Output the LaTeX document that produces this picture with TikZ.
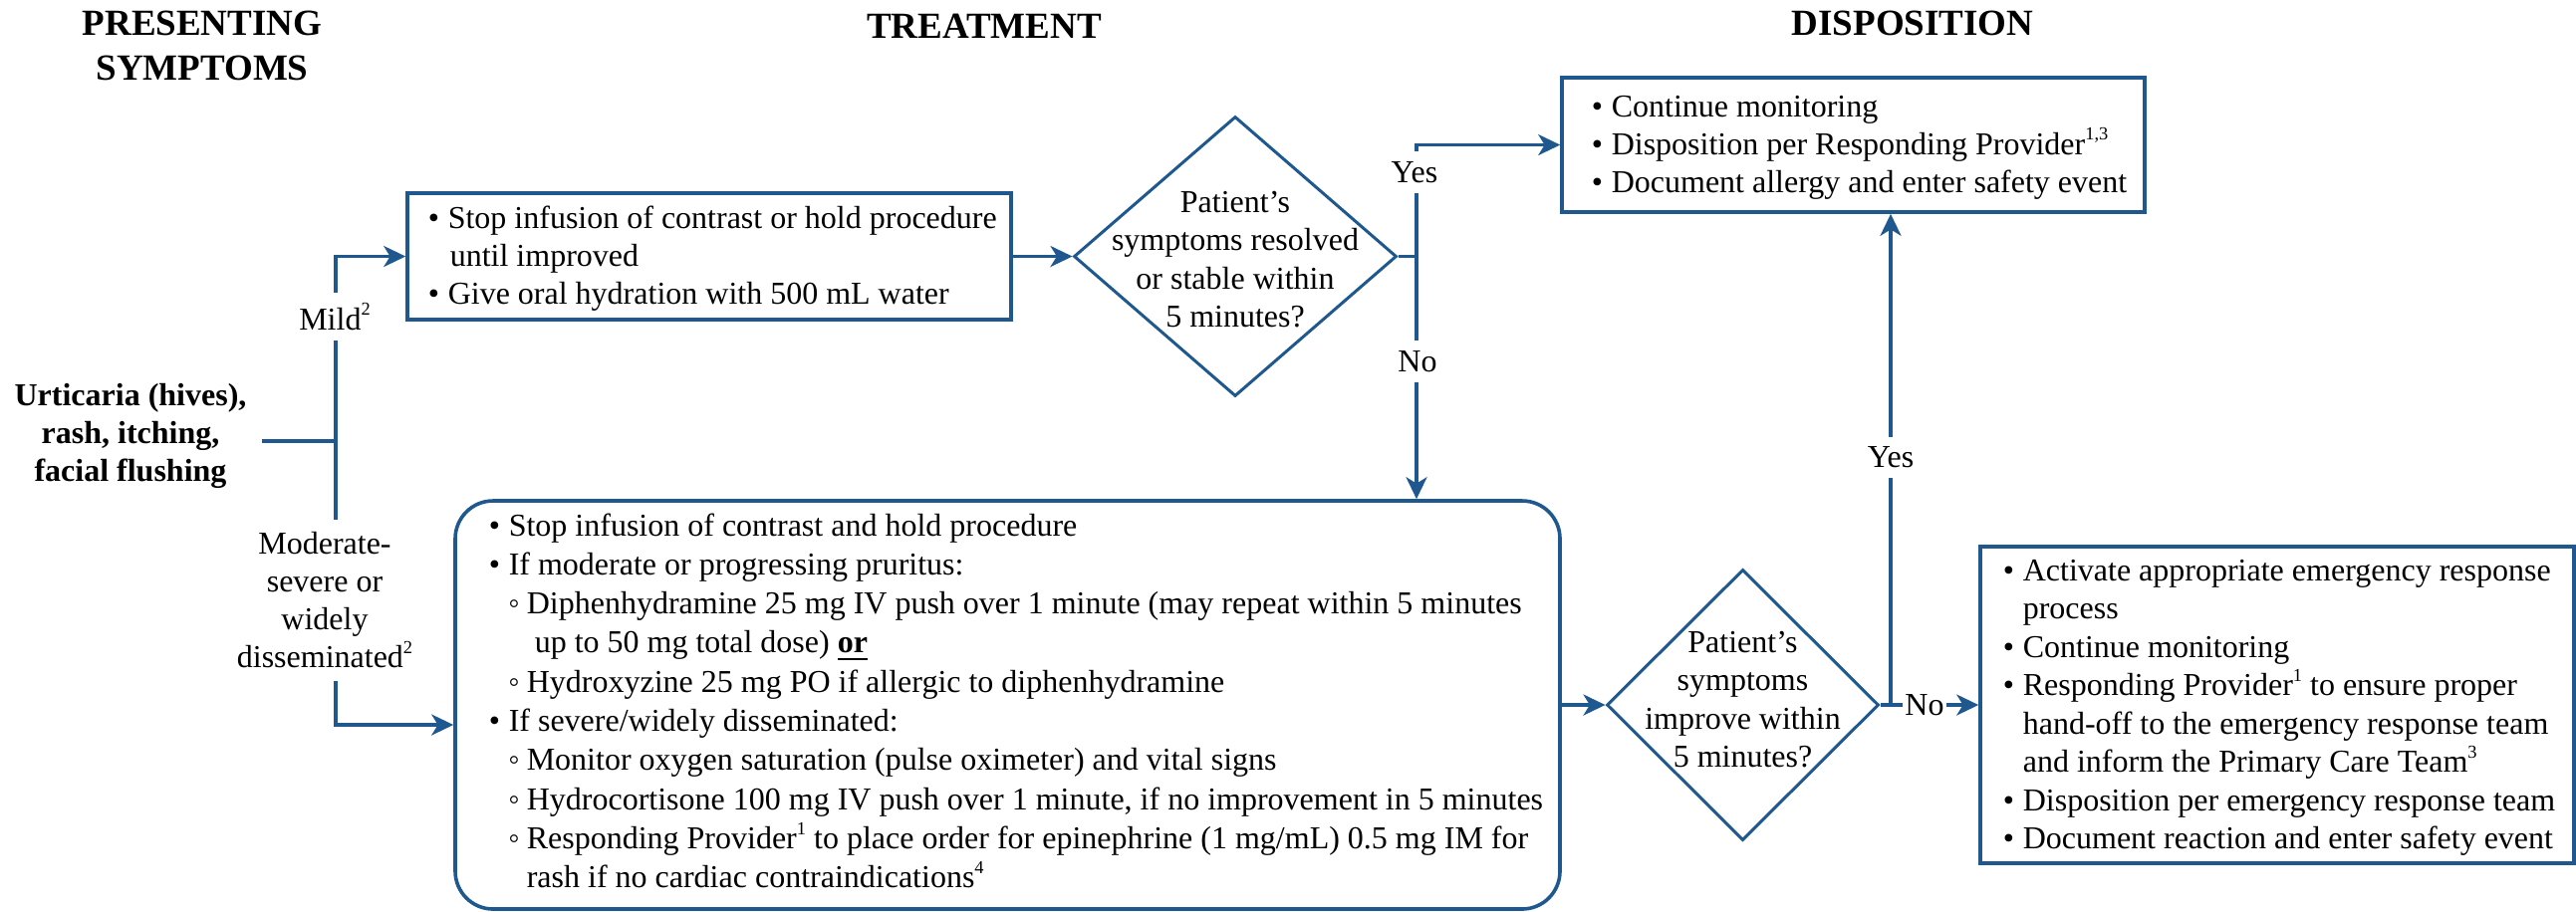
\documentclass[tikz,border=0pt]{standalone}
\usepackage{fontspec}
\setmainfont{Liberation Serif}
\usetikzlibrary{shapes.geometric,arrows.meta}
\definecolor{fblue}{RGB}{31,88,143}
\newcommand\bul{\llap{•\hspace{2.2pt}}}
\newcommand\sbul{\llap{◦\hspace{1.8pt}}}
\newcommand\sps[1]{\raisebox{3.6pt}{\fontsize{4.6}{5}\selectfont #1}}
\tikzset{
  x=0.25pt, y=-0.25pt,
  txt/.style={font=\fontsize{8}{9.5}\selectfont, inner sep=0pt, anchor=base west},
  ctxt/.style={font=\fontsize{8}{9.5}\selectfont, inner sep=0pt, anchor=base},
  head/.style={font=\fontsize{9.25}{11.25}\selectfont\bfseries, inner sep=0pt, anchor=base},
  box/.style={draw=fblue, line width=0.9pt, rectangle, inner sep=0pt},
  dia/.style={draw=fblue, line width=0.75pt, diamond, inner sep=0pt},
  conn/.style={draw=fblue, line width=0.85pt},
  arr/.style={conn, -{Stealth[length=5.5pt,width=5.25pt,inset=1.6pt]}},
  lbl/.style={font=\fontsize{8}{9.5}\selectfont, inner sep=0pt, align=center},
}
\begin{document}
\begin{tikzpicture}
\useasboundingbox (0,0) rectangle (2586,915);
% headings
\node[head] (h1a) at (203,35) {PRESENTING};
\node[head] (h1b) at (203,80) {SYMPTOMS};
\node[head] (h2) at (988,38) {TREATMENT};
\node[head] (h3) at (1920,35) {DISPOSITION};

% presenting symptoms
\node[lbl, font=\fontsize{8}{9.5}\selectfont\bfseries, inner xsep=3.75pt] (urt) at (131,437.5) {Urticaria (hives),\\rash, itching,\\facial flushing};
\coordinate (junc) at (337,443);
\node[lbl, minimum height=11.5pt] (mildl) at (336,318) {Mild\sps{2}};
\node[lbl, minimum height=40pt] (modl) at (326,603) {Moderate-\\severe or\\widely\\disseminated\sps{2}};

% boxes
\node[box, minimum width=151.5pt, minimum height=31.75pt] (mild) at (712,257.5) {};
\node[box, minimum width=146.25pt, minimum height=33.75pt] (tr) at (1860.5,145.5) {};
\node[box, rounded corners=9.5pt, minimum width=277.25pt, minimum height=102.5pt] (low) at (1011.5,708) {};
\node[box, minimum width=149pt, minimum height=79.5pt] (rb) at (2286,708) {};

% diamonds
\node[dia, minimum width=81pt, minimum height=70.25pt] (d1) at (1240,257.5) {};
\node[dia, minimum width=68.25pt, minimum height=68pt] (d2) at (1749.5,708) {};

% connectors
\draw[conn] (urt.east |- junc) -- (junc);
\draw[conn] (junc) -- (junc |- mildl.south);
\draw[arr] (junc |- mildl.north) |- (mild.west);
\draw[conn] (junc) -- (junc |- modl.north);
\coordinate (lowin) at (low.west |- 0,728);
\draw[arr] (junc |- modl.south) |- (lowin);

\draw[arr] (mild.east) -- (d1.west);
\coordinate (j1) at (1422,257.5);
\draw[conn] (d1.east) -- (j1);
\node[lbl, minimum height=10pt] (yes1) at (1420,173) {Yes};
\node[lbl, minimum height=10pt] (no1) at (1423,363) {No};
\draw[conn] (j1) -- (j1 |- yes1.south);
\draw[arr] (j1 |- yes1.north) |- (tr.west);
\draw[conn] (j1) -- (j1 |- no1.north);
\draw[arr] (j1 |- no1.south) -- (j1 |- low.north);

\draw[arr] (low.east) -- (d2.west);
\coordinate (j2) at (1898,708);
\node[lbl, inner xsep=0.5pt] (no2) at (1932,708) {No};
\node[lbl, minimum height=9.75pt] (yes2) at (1898,459.5) {Yes};
\draw[conn] (d2.east) -- (no2.west);
\draw[arr] (no2.east) -- (rb.west);
\draw[conn] (j2) -- (j2 |- yes2.south);
\draw[arr] (j2 |- yes2.north) -- (j2 |- tr.south);

% mild box text
\node[txt] (m1) at (449,229) {\bul Stop infusion of contrast or hold procedure};
\node[txt] (m2) at (451,267) {until improved};
\node[txt] (m3) at (449,305) {\bul Give oral hydration with 500 mL water};

% top right box text
\node[txt] (t1) at (1617,117) {\bul Continue monitoring};
\node[txt] (t2) at (1617,155) {\bul Disposition per Responding Provider\sps{1,3}};
\node[txt] (t3) at (1617,193) {\bul Document allergy and enter safety event};

% lower box text
\node[txt] (l1) at (510,538) {\bul Stop infusion of contrast and hold procedure};
\node[txt] (l2) at (510,577.3) {\bul If moderate or progressing pruritus:};
\node[txt] (l3) at (528,616.6) {\sbul Diphenhydramine 25 mg IV push over 1 minute (may repeat within 5 minutes};
\node[txt] (l4) at (536,655.9) {up to 50 mg total dose) \underline{\textbf{or}}};
\node[txt] (l5) at (528,695.2) {\sbul Hydroxyzine 25 mg PO if allergic to diphenhydramine};
\node[txt] (l6) at (510,734.5) {\bul If severe/widely disseminated:};
\node[txt] (l7) at (528,773.8) {\sbul Monitor oxygen saturation (pulse oximeter) and vital signs};
\node[txt] (l8) at (528,813.1) {\sbul Hydrocortisone 100 mg IV push over 1 minute, if no improvement in 5 minutes};
\node[txt] (l9) at (528,852.4) {\sbul Responding Provider\sps{1} to place order for epinephrine (1 mg/mL) 0.5 mg IM for};
\node[txt] (l10) at (528,891.7) {rash if no cardiac contraindications\sps{4}};

% right box text
\node[txt] (r1) at (2030,583) {\bul Activate appropriate emergency response};
\node[txt] (r2) at (2030,621.5) {process};
\node[txt] (r3) at (2030,660) {\bul Continue monitoring};
\node[txt] (r4) at (2030,698.5) {\bul Responding Provider\sps{1} to ensure proper};
\node[txt] (r5) at (2030,737) {hand-off to the emergency response team};
\node[txt] (r6) at (2030,775.5) {and inform the Primary Care Team\sps{3}};
\node[txt] (r7) at (2030,814) {\bul Disposition per emergency response team};
\node[txt] (r8) at (2030,852.5) {\bul Document reaction and enter safety event};

% diamond texts
\node[ctxt] (d1a) at (1240,213) {Patient’s};
\node[ctxt] (d1b) at (1240,251) {symptoms resolved};
\node[ctxt] (d1c) at (1240,290) {or stable within};
\node[ctxt] (d1d) at (1240,328) {5 minutes?};
\node[ctxt] (d2a) at (1749.5,655) {Patient’s};
\node[ctxt] (d2b) at (1749.5,693) {symptoms};
\node[ctxt] (d2c) at (1749.5,732) {improve within};
\node[ctxt] (d2d) at (1749.5,770) {5 minutes?};
\end{tikzpicture}
\end{document}
